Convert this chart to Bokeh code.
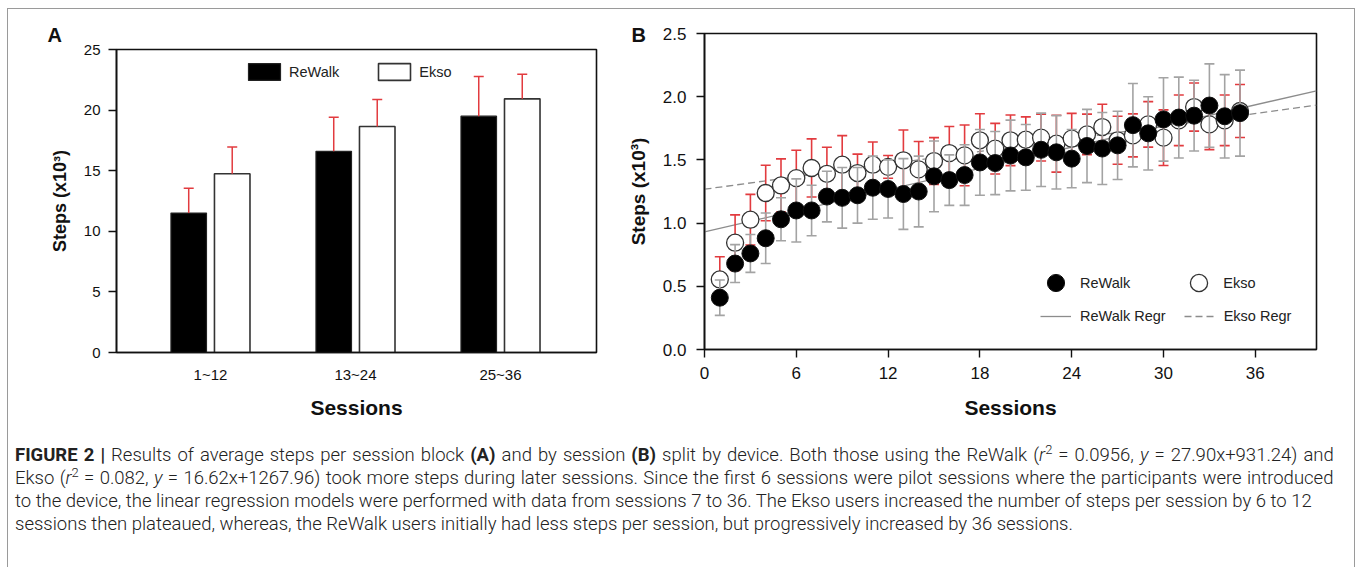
import numpy as np
from bokeh.plotting import figure
from bokeh.models import (Range1d, FixedTicker, NumeralTickFormatter, Legend, LegendItem, Div)
from bokeh.layouts import row, column
from bokeh.embed import file_html
from bokeh.resources import INLINE

# ---------------- data ----------------
blocks = ["1~12", "13~24", "25~36"]
block_pos = [1, 2, 3]
rewalk_block = [11.5, 16.6, 19.5]
rewalk_block_err = [2.05, 2.8, 3.27]
ekso_block = [14.75, 18.65, 20.93]
ekso_block_err = [2.2, 2.22, 2.03]

sessions = list(range(1, 36))
rewalk_mean = [0.41, 0.68, 0.76, 0.88, 1.03, 1.10, 1.10, 1.21, 1.20, 1.22, 1.28, 1.27,
               1.23, 1.25, 1.37, 1.34, 1.38, 1.48, 1.475, 1.535, 1.52, 1.58, 1.56, 1.51,
               1.61, 1.59, 1.615, 1.775, 1.71, 1.82, 1.835, 1.85, 1.93, 1.845, 1.87]
rewalk_sd = [0.14, 0.15, 0.15, 0.20, 0.17, 0.25, 0.20, 0.20, 0.24, 0.22, 0.25, 0.23,
             0.28, 0.28, 0.28, 0.20, 0.24, 0.26, 0.25, 0.28, 0.26, 0.29, 0.29, 0.23,
             0.29, 0.285, 0.27, 0.33, 0.29, 0.33, 0.32, 0.28, 0.33, 0.33, 0.34]
ekso_mean = [0.554, 0.845, 1.027, 1.238, 1.298, 1.356, 1.436, 1.39, 1.462, 1.396, 1.462, 1.445,
             1.497, 1.425, 1.491, 1.554, 1.536, 1.655, 1.589, 1.655, 1.66, 1.676, 1.628, 1.668,
             1.702, 1.76, 1.655, 1.694, 1.781, 1.676, 1.813, 1.918, 1.781, 1.813, 1.887]
ekso_sd = [0.18, 0.22, 0.20, 0.22, 0.21, 0.22, 0.23, 0.21, 0.23, 0.15, 0.18, 0.09,
           0.24, 0.22, 0.185, 0.21, 0.24, 0.21, 0.20, 0.20, 0.18, 0.185, 0.225, 0.20,
           0.16, 0.18, 0.19, 0.17, 0.18, 0.22, 0.20, 0.19, 0.20, 0.20, 0.21]

reg_x = [0, 40]
rewalk_reg = [0.931, 2.047]
ekso_reg = [1.268, 1.933]

# ---------------- style ----------------
FONT = "Liberation Sans"
RED = "#e23b3f"
GRAY = "#a3a3a3"


def style_axes(p, tick_size, label_size_y, label_size_x):
    for ax in (p.xaxis[0], p.yaxis[0]):
        ax.axis_line_width = 1.6
        ax.axis_line_color = "#111111"
        ax.major_tick_line_width = 1.4
        ax.major_tick_line_color = "#111111"
        ax.minor_tick_line_color = None
        ax.major_tick_in = 0
        ax.major_label_text_font = FONT
        ax.major_label_text_font_size = tick_size
        ax.major_label_text_color = "#111111"
        ax.axis_label_text_font = FONT
        ax.axis_label_text_font_style = "bold"
        ax.axis_label_text_color = "#111111"
    p.yaxis[0].axis_label_text_font_size = label_size_y
    p.xaxis[0].axis_label_text_font_size = label_size_x
    p.xgrid.grid_line_color = None
    p.ygrid.grid_line_color = None
    p.outline_line_color = "#111111"
    p.outline_line_width = 1.6
    p.background_fill_color = "white"
    p.border_fill_color = "white"


def panel_title(p, letter, offset, standoff):
    p.title.text = letter
    p.title.align = "left"
    p.title.offset = offset
    p.title.standoff = standoff
    p.title.text_font = FONT
    p.title.text_font_style = "bold"
    p.title.text_font_size = "20px"
    p.title.text_color = "#111111"


# ---------------- panel A ----------------
pA = figure(width=612, height=432, x_range=Range1d(0.352, 3.662), y_range=Range1d(0, 25),
            output_backend="svg", toolbar_location=None,
            min_border_left=108, min_border_right=24, min_border_top=40, min_border_bottom=89)
style_axes(pA, "15px", "18px", "21px")
panel_title(pA, "A", -69, 8)
pA.yaxis.ticker = FixedTicker(ticks=[0, 5, 10, 15, 20, 25])
pA.yaxis.major_tick_out = 8
pA.yaxis.major_label_standoff = 8
pA.yaxis.axis_label = "Steps (x10³)"
pA.yaxis.axis_label_standoff = 11
pA.xaxis.ticker = FixedTicker(ticks=block_pos)
pA.xaxis.major_label_overrides = {pos: lab for pos, lab in zip(block_pos, blocks)}
pA.xaxis.major_tick_out = 0
pA.xaxis.major_label_standoff = 13
pA.xaxis.axis_label = "Sessions"
pA.xaxis.axis_label_standoff = 10

bar_off = 0.15
bar_w = 0.245
rx = np.array(block_pos) - bar_off
ex = np.array(block_pos) + bar_off
r_top = np.array(rewalk_block)
e_top = np.array(ekso_block)
r_hi = r_top + np.array(rewalk_block_err)
e_hi = e_top + np.array(ekso_block_err)

rA = pA.vbar(x=rx, top=r_top, bottom=0, width=bar_w, fill_color="black",
             line_color="#222222", line_width=1.2)
eA = pA.vbar(x=ex, top=e_top, bottom=0, width=bar_w, fill_color="white",
             line_color="#333333", line_width=1.6)
pA.segment(x0=rx, y0=r_top, x1=rx, y1=r_hi, line_color=RED, line_width=1.5)
pA.segment(x0=ex, y0=e_top, x1=ex, y1=e_hi, line_color=RED, line_width=1.5)
pA.scatter(x=rx, y=r_hi, marker="dash", size=10, line_color=RED, line_width=1.5)
pA.scatter(x=ex, y=e_hi, marker="dash", size=10, line_color=RED, line_width=1.5)

legA = Legend(items=[LegendItem(label="ReWalk", renderers=[rA]),
                     LegendItem(label="Ekso", renderers=[eA])],
              location=(128, 270), orientation="horizontal",
              glyph_width=40, glyph_height=21, label_height=21, label_standoff=5,
              spacing=35, padding=0, margin=0, border_line_color=None,
              background_fill_alpha=0, label_text_font=FONT,
              label_text_font_size="14.5px", label_text_color="#222222")
pA.add_layout(legA)

# ---------------- panel B ----------------
pB = figure(width=734, height=432, x_range=Range1d(0, 40), y_range=Range1d(0, 2.5),
            output_backend="svg", toolbar_location=None,
            min_border_left=84, min_border_right=38, min_border_top=24, min_border_bottom=92)
style_axes(pB, "17px", "19px", "21px")
panel_title(pB, "B", -73, -24)
pB.yaxis.ticker = FixedTicker(ticks=[0, 0.5, 1.0, 1.5, 2.0, 2.5])
pB.yaxis.formatter = NumeralTickFormatter(format="0.0")
pB.yaxis.major_tick_out = 8
pB.yaxis.major_label_standoff = 10
pB.yaxis.axis_label = "Steps (x10³)"
pB.yaxis.axis_label_standoff = 11
pB.xaxis.ticker = FixedTicker(ticks=[0, 6, 12, 18, 24, 30, 36])
pB.xaxis.major_tick_out = 8
pB.xaxis.major_label_standoff = 9
pB.xaxis.axis_label = "Sessions"
pB.xaxis.axis_label_standoff = 14

s = np.array(sessions)
rm = np.array(rewalk_mean)
rs = np.array(rewalk_sd)
em = np.array(ekso_mean)
es = np.array(ekso_sd)

regR = pB.line(x=reg_x, y=rewalk_reg, line_color="#8c8c8c", line_width=1.3)
regE = pB.line(x=reg_x, y=ekso_reg, line_color="#8c8c8c", line_width=1.3, line_dash="7 4")

# Ekso error bars (red)
pB.segment(x0=s, y0=em - es, x1=s, y1=em + es, line_color=RED, line_width=1.6)
pB.scatter(x=np.concatenate([s, s]), y=np.concatenate([em - es, em + es]), marker="dash",
           size=10, line_color=RED, line_width=1.6)
eB = pB.scatter(x=s, y=em, marker="circle", size=17, fill_color="white",
                line_color="#333333", line_width=1.3)
# ReWalk error bars (gray)
pB.segment(x0=s, y0=rm - rs, x1=s, y1=rm + rs, line_color=GRAY, line_width=1.6)
pB.scatter(x=np.concatenate([s, s]), y=np.concatenate([rm - rs, rm + rs]), marker="dash",
           size=10, line_color=GRAY, line_width=1.6)
rB = pB.scatter(x=s, y=rm, marker="circle", size=17, fill_color="black",
                line_color="#111111", line_width=1.0)

legB1 = Legend(items=[LegendItem(label="ReWalk", renderers=[rB]),
                      LegendItem(label="Ekso", renderers=[eB])],
               location=(330, 45), orientation="horizontal",
               glyph_width=43, glyph_height=43, label_height=43, label_standoff=3,
               spacing=47, padding=0, margin=0, border_line_color=None,
               background_fill_alpha=0, label_text_font=FONT,
               label_text_font_size="14.5px", label_text_color="#222222")
legB2 = Legend(items=[LegendItem(label="ReWalk Regr", renderers=[regR]),
                      LegendItem(label="Ekso Regr", renderers=[regE])],
               location=(336, 23), orientation="horizontal",
               glyph_width=31, glyph_height=20, label_height=20, label_standoff=9,
               spacing=18, padding=0, margin=0, border_line_color=None,
               background_fill_alpha=0, label_text_font=FONT,
               label_text_font_size="14.5px", label_text_color="#222222")
pB.add_layout(legB1)
pB.add_layout(legB2)

# ---------------- caption ----------------
B = '<span style="font-weight:700">'
E = '</span>'
SUP = '<sup style="line-height:0;font-size:0.7em">2</sup>'
line1 = (f"{B}FIGURE 2 |{E} Results of average steps per session block {B}(A){E} and by session "
         f"{B}(B){E} split by device. Both those using the ReWalk (<i>r</i>{SUP} = 0.0956, "
         "<i>y</i> = 27.90x+931.24) and")
line2 = (f"Ekso (<i>r</i>{SUP} = 0.082, <i>y</i> = 16.62x+1267.96) took more steps during later "
         "sessions. Since the first 6 sessions were pilot sessions where the participants were introduced")
line3 = ("to the device, the linear regression models were performed with data from sessions 7 to 36. "
         "The Ekso users increased the number of steps per session by 6 to 12")
line4 = ("sessions then plateaued, whereas, the ReWalk users initially had less steps per session, "
         "but progressively increased by 36 sessions.")
caption = (f'<span style="word-spacing:1.5px">{line1}</span><br>'
           f'<span style="word-spacing:0.8px">{line2}</span><br>'
           f'{line3}<br>{line4}')
div = Div(text=caption, width=1346, height=128, margin=(3, 0, 0, 0),
          styles={"font-family": "Roboto", "font-size": "18.5px", "font-weight": "300",
                  "line-height": "23px", "padding-left": "7px", "padding-top": "0px",
                  "color": "#222222", "white-space": "nowrap", "box-sizing": "border-box"})

layout = column(row(column(pA), column(pB)), div,
                styles={"border": "1px solid #9a9a9a"}, margin=(8, 0, 0, 7))

open("out.html", "w").write(file_html(layout, INLINE))
